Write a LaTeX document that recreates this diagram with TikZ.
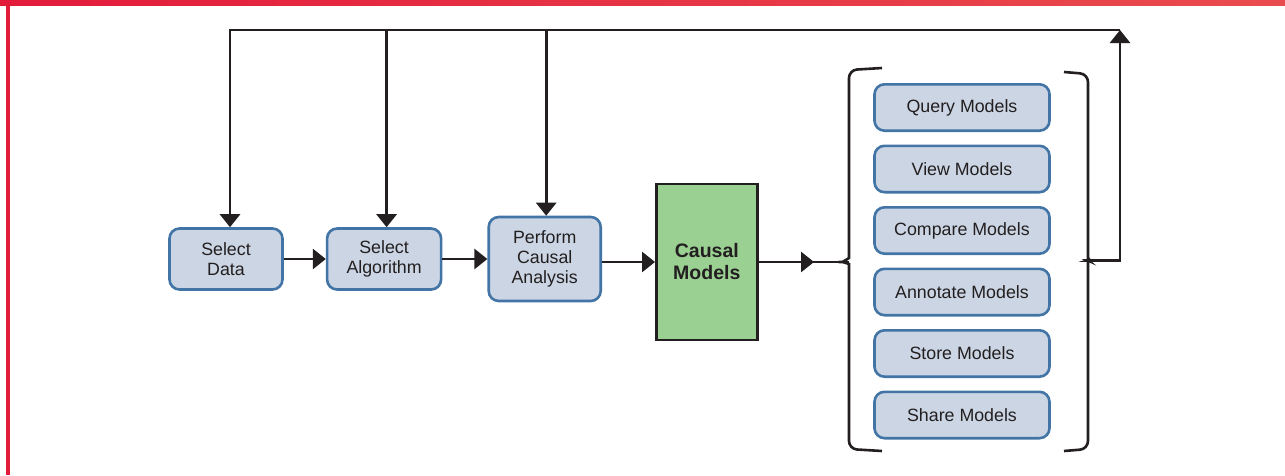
\documentclass[tikz,border=0pt]{standalone}
\usepackage{fontspec}
\setmainfont{Liberation Sans}
\usetikzlibrary{arrows.meta, positioning, calc}
\definecolor{frameRed}{RGB}{227, 27, 59}
\definecolor{frameRedLight}{RGB}{233, 76, 78}
\definecolor{stepBlue}{RGB}{203, 213, 227}
\definecolor{stepEdge}{RGB}{66, 116, 165}
\definecolor{modelGreen}{RGB}{155, 208, 147}
\definecolor{inkBlack}{RGB}{35, 31, 32}
\tikzset{
  stepnode/.style={
    rectangle, rounded corners=10pt,
    draw=stepEdge, fill=stepBlue, line width=2.6pt,
    inner sep=0pt, align=center, text=inkBlack,
    font=\fontsize{17.8}{20}\selectfont
  },
  usenode/.style={
    stepnode,
    minimum width=175pt, minimum height=46.4pt
  },
  modelnode/.style={
    rectangle,
    draw=inkBlack, fill=modelGreen, line width=2.6pt,
    minimum width=101pt, minimum height=156pt,
    align=center, text=inkBlack,
    font=\fontsize{19.5}{22}\selectfont\bfseries
  },
  flowline/.style={
    line width=2.8pt, draw=inkBlack
  },
  flowarrow/.style={
    flowline, -{Triangle[length=13pt,width=20pt]}
  },
  bracket/.style={
    line width=2.6pt, draw=inkBlack, rounded corners=8pt
  }
}

\begin{document}
\begin{tikzpicture}[x=1pt, y=1pt]
  \useasboundingbox (0,0) rectangle (1285,-475);

  % frame
  \shade[left color=frameRed, right color=frameRedLight] (0,0) rectangle (1285,-5);
  \fill[frameRed] (6,0) rectangle (9.5,-475);

  % analysis steps
  \node[stepnode, minimum width=113pt, minimum height=61pt] (sd) at (226,-259) {Select\\Data};
  \node[stepnode, minimum width=114pt, minimum height=61pt, right=42pt of sd] (sa) {Select\\Algorithm};
  \node[stepnode, minimum width=112pt, minimum height=84pt, right=45pt of sa] (pca) {Perform\\Causal\\Analysis};
  \node[modelnode, right=53pt of pca, yshift=-3pt] (cm) {Causal\\Models};

  % what can be done with the models
  \node[usenode] (qm) at (962,-107.5) {Query Models};
  \node[usenode, below=12.5pt of qm] (vm) {View Models};
  \node[usenode, below=12.5pt of vm] (cpm) {Compare Models};
  \node[usenode, below=12.5pt of cpm] (am) {Annotate Models};
  \node[usenode, below=12.5pt of am] (stm) {Store Models};
  \node[usenode, below=12.5pt of stm] (shm) {Share Models};

  % brackets round the model actions
  \coordinate (lb) at (849,-262);
  \coordinate (rb) at (1088,-260.5);
  \draw[bracket] (882,-68) -- (849,-70) -- (849,-250)
    .. controls (849,-258) and (843,-262) .. (834,-262)
    .. controls (843,-262) and (849,-264) .. (849,-272)
    -- (849,-449) -- (882,-451);
  \draw[bracket] (1064,-72) -- (1088,-74) -- (1088,-252)
    .. controls (1088,-258) and (1091,-260.5) .. (1096,-260.5)
    .. controls (1091,-260.5) and (1088,-262) .. (1088,-268)
    -- (1088,-449) -- (1064,-451);

  % main flow
  \coordinate (lbin) at (814,-262);
  \coordinate (fb) at (1120,-30);
  \draw[flowarrow] (sd) -- (sa);
  \draw[flowarrow] (sa) -- (pca);
  \draw[flowarrow] (pca.east |- cm.west) -- (cm);
  \draw[flowline] (cm.east |- lb) -- (lb);
  \draw[flowarrow] (cm.east |- lbin) -- (lbin);

  % feedback to the earlier steps
  \draw[flowarrow] (rb) -| (fb);
  \draw[flowarrow] (fb) -| ($(sd.north)+(4,0)$);
  \draw[flowarrow] ($(sa.north |- fb)+(2.5,0)$) -- ($(sa.north)+(2.5,0)$);
  \draw[flowarrow] ($(pca.north |- fb)+(1.5,0)$) -- ($(pca.north)+(1.5,0)$);
\end{tikzpicture}
\end{document}
